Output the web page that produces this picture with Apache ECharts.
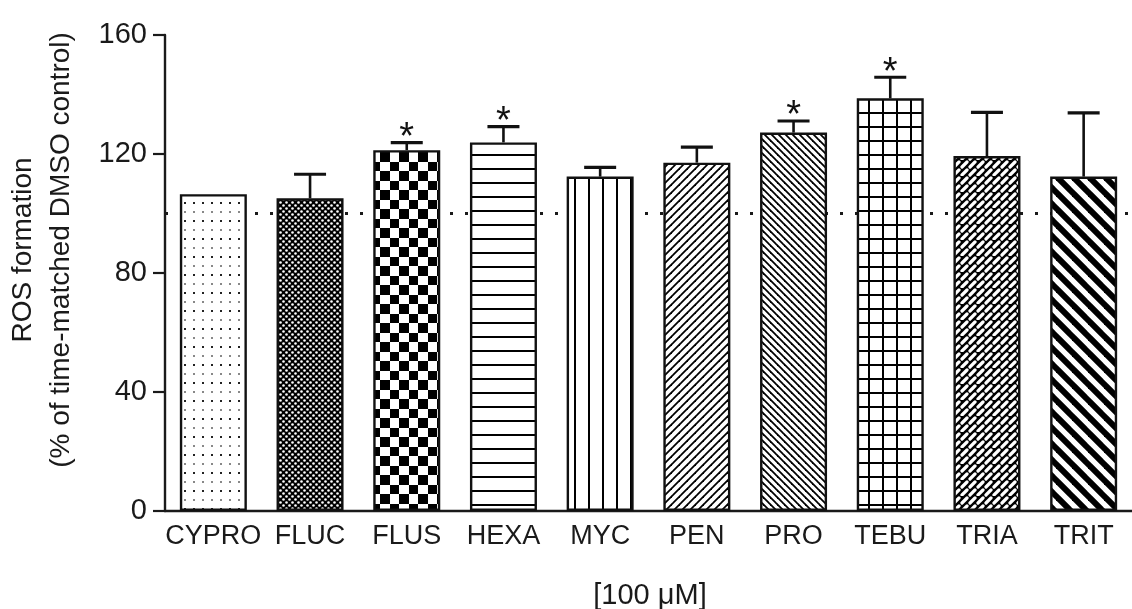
<!DOCTYPE html>
<html>
<head>
<meta charset="utf-8">
<script src="https://cdn.jsdelivr.net/npm/echarts@6/dist/echarts.min.js"></script>
<style>
html,body{margin:0;padding:0;background:#fff;}
#chart{width:1132px;height:609px;}
</style>
</head>
<body>
<div id="chart"></div>
<script>
// ---- data ----
const categories = ['CYPRO','FLUC','FLUS','HEXA','MYC','PEN','PRO','TEBU','TRIA','TRIT'];
const means = [106.5, 105.1, 121.3, 123.9, 112.4, 117.1, 127.2, 138.7, 119.3, 112.4];
const errors = [0, 8.1, 2.5, 5.3, 3.1, 5.2, 3.9, 7.1, 14.7, 21.4];
const significant = [0, 0, 1, 1, 0, 0, 1, 1, 0, 0];
const yTicks = [0, 40, 80, 120, 160];
const controlLevel = 100;
const yTitle = ['ROS formation', '(% of time-matched DMSO control)'];
const xTitle = '[100 \u03BCM]';

// ---- patterns ----
function tile(w, h, draw) {
  const c = document.createElement('canvas');
  c.width = w; c.height = h;
  const g = c.getContext('2d');
  g.fillStyle = '#fff'; g.fillRect(0, 0, w, h);
  g.fillStyle = '#000'; g.strokeStyle = '#000';
  draw(g, w, h);
  return { image: c, repeat: 'repeat' };
}
function diag(p, lw, dir) {
  return tile(p, p, (g) => {
    g.strokeStyle = '#000'; g.lineWidth = lw; g.lineCap = 'butt';
    for (let k = -1; k <= 1; k++) {
      g.beginPath();
      if (dir > 0) { // "/"
        g.moveTo(-2, p + 2 + k * p); g.lineTo(p + 2, -2 + k * p);
      } else { // "\"
        g.moveTo(-2, -2 + k * p); g.lineTo(p + 2, p + 2 + k * p);
      }
      g.stroke();
    }
  });
}
const patterns = [
  tile(9, 18, (g) => { g.fillStyle = '#222'; g.fillRect(4, 4, 2, 2); g.fillStyle = '#888'; g.fillRect(4, 13, 2, 2); }),
  tile(6, 6, (g) => { g.fillRect(0, 0, 6, 6); g.fillStyle = '#fff';
    g.beginPath(); g.arc(1.5, 1.5, 1.3, 0, 7); g.fill(); g.beginPath(); g.arc(4.5, 4.5, 1.3, 0, 7); g.fill(); }),
  tile(19, 19, (g) => { g.fillRect(0, 0, 10, 10); g.fillRect(10, 10, 9, 9); }),
  tile(4, 14, (g) => { g.fillRect(0, 0, 4, 2); }),
  tile(14, 4, (g) => { g.fillRect(0, 0, 2, 4); }),
  diag(8, 1.8, 1),
  diag(7, 1.8, -1),
  tile(14, 14, (g) => { g.fillRect(0, 0, 14, 2); g.fillRect(0, 0, 2, 14); }),
  tile(16, 16, (g) => { g.fillRect(0, 0, 16, 16); g.strokeStyle = '#fff'; g.lineWidth = 3.2; g.lineCap = 'round';
    const segs = [[2, 7, 7, 2], [10, 15, 15, 10], [10, 7, 15, 2], [2, 15, 7, 10],
                  [-6, 15, -1, 10], [18, 7, 23, 2], [2, 23, 7, 18], [10, -1, 15, -6], [-6, 7, -1, 2], [18, 15, 23, 10]];
    segs.forEach(s => { g.beginPath(); g.moveTo(s[0], s[1]); g.lineTo(s[2], s[3]); g.stroke(); }); }),
  diag(16, 6, -1)
];

const FONT = '"Liberation Sans", Arial, sans-serif';
const chart = echarts.init(document.getElementById('chart'), null, { renderer: 'canvas' });

chart.setOption({
  animation: false,
  backgroundColor: '#fff',
  grid: { left: 165, top: 35, width: 972, height: 476, containLabel: false },
  xAxis: {
    type: 'category',
    data: categories,
    axisLine: { lineStyle: { color: '#1a1a1a', width: 2.4 } },
    axisTick: { alignWithLabel: true, length: 12, lineStyle: { color: '#1a1a1a', width: 2.2 } },
    axisLabel: { color: '#1a1a1a', fontSize: 27, fontFamily: FONT, margin: 12, interval: 0 },
    splitLine: { show: false }
  },
  yAxis: {
    type: 'value',
    min: yTicks[0], max: yTicks[yTicks.length - 1], interval: yTicks[1] - yTicks[0],
    axisLine: { show: true, lineStyle: { color: '#1a1a1a', width: 2.4 } },
    axisTick: { show: true, length: 12, lineStyle: { color: '#1a1a1a', width: 2.2 } },
    axisLabel: { color: '#1a1a1a', fontSize: 29, fontFamily: FONT, margin: 18 },
    splitLine: { show: false }
  },
  graphic: [
    { type: 'text', x: 42, y: 250, rotation: Math.PI / 2, z: 10,
      style: { text: yTitle.join('\n'), font: '28px ' + FONT, fill: '#1a1a1a', textAlign: 'center', textVerticalAlign: 'middle', lineHeight: 38 } },
    { type: 'text', x: 650, y: 596, z: 10,
      style: { text: xTitle, font: '29px ' + FONT, fill: '#1a1a1a', textAlign: 'center', textVerticalAlign: 'middle' } }
  ],
  series: [
    {
      type: 'line', data: [], z: 1, silent: true,
      markLine: {
        z: 1, silent: true, symbol: 'none', label: { show: false },
        lineStyle: { color: '#1a1a1a', width: 3, type: [3, 12], cap: 'butt' },
        data: [{ yAxis: controlLevel }]
      }
    },
    {
      type: 'bar', z: 2, barWidth: 67,
      data: means.map((v, i) => ({ value: v, itemStyle: { color: patterns[i] } })),
      itemStyle: { borderColor: '#111', borderWidth: 2.4 }
    },
    {
      type: 'custom', z: 3,
      data: means.map((v, i) => [i, v, errors[i], significant[i]]),
      encode: { x: 0, y: 1 },
      renderItem: function (params, api) {
        const i = api.value(0), m = api.value(1), e = api.value(2), s = api.value(3);
        const base = api.coord([i, m]);
        const top = api.coord([i, m + e]);
        const children = [];
        if (e > 0) {
          children.push({ type: 'line', shape: { x1: base[0], y1: base[1], x2: top[0], y2: top[1] }, style: { stroke: '#111', lineWidth: 2.6 } });
          children.push({ type: 'line', shape: { x1: top[0] - 16, y1: top[1], x2: top[0] + 16, y2: top[1] }, style: { stroke: '#111', lineWidth: 3.2 } });
        }
        if (s) {
          children.push({ type: 'text', x: top[0], y: top[1] - 4,
            style: { text: '*', font: '38px ' + FONT, fill: '#111', textAlign: 'center', textVerticalAlign: 'middle' } });
        }
        return { type: 'group', children: children };
      }
    }
  ]
});
</script>
</body>
</html>
